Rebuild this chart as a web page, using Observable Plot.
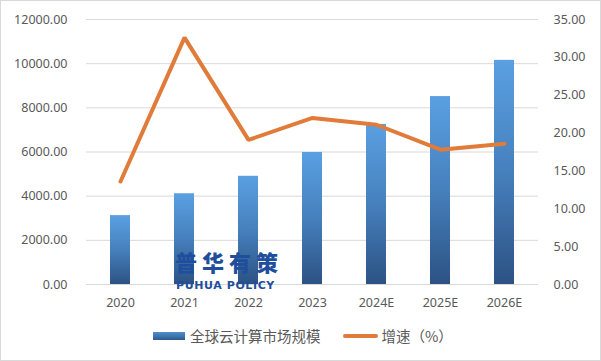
<!DOCTYPE html>
<html>
<head>
<meta charset="utf-8">
<script src="https://cdn.jsdelivr.net/npm/d3@7"></script>
<script src="https://cdn.jsdelivr.net/npm/@observablehq/plot@0.6"></script>
<style>
  body { margin: 0; background: #fff; }
  #wrap { position: relative; width: 601px; height: 361px; overflow: hidden; font-family: "Noto Sans CJK SC", "Noto Sans", sans-serif; }
  #frame { position: absolute; left: 0; top: 0; width: 599px; height: 359px; border: 1px solid #d9d9d9; pointer-events: none; }
  #chart { position: absolute; left: 0; top: 0; }
  .wm { position: absolute; color: #1f4f9c; font-weight: 900; white-space: nowrap; }
  #wm1 { left: 175px; top: 247px; font-size: 22px; line-height: 28px; letter-spacing: 5px; }
  #wm2 { left: 176px; top: 280px; font-family: "DejaVu Sans", sans-serif; font-weight: bold; font-size: 11px; line-height: 12px; letter-spacing: 0.6px; }
  #legend { position: absolute; left: 153px; top: 325px; display: flex; align-items: center; font-size: 14.5px; color: #595959; }
  .sw1 { width: 32px; height: 8px; background: linear-gradient(#4f8fd0, #2e5a8c); margin-right: 5px; }
  .sw2 { width: 35px; height: 4px; background: #e07b39; border-radius: 2px; margin-left: 22px; margin-right: 4px; }
</style>
</head>
<body>
<div id="wrap">
  <div id="chart"></div>
  <div class="wm" id="wm1">普华有策</div>
  <div class="wm" id="wm2">PUHUA POLICY</div>
  <div id="legend"><div class="sw1"></div><span>全球云计算市场规模</span><div class="sw2"></div><span>增速（%）</span></div>
  <div id="frame"></div>
</div>
<script>
const years = ["2020", "2021", "2022", "2023", "2024E", "2025E", "2026E"];
const marketSize = [3120, 4110, 4900, 5980, 7250, 8510, 10150];
const growth = [13.6, 32.6, 19.1, 22.0, 21.1, 17.8, 18.6];
const leftTicks = [0, 2000, 4000, 6000, 8000, 10000, 12000];
const rightTicks = [0, 5, 10, 15, 20, 25, 30, 35];
const leftMax = 12000, rightMax = 35;
const toLeft = v => v * leftMax / rightMax;

const data = years.map((y, i) => ({year: y, size: marketSize[i], g: growth[i]}));

const plot = Plot.plot({
  width: 601,
  height: 318,
  marginTop: 19,
  marginBottom: 34,
  marginLeft: 86,
  marginRight: 63,
  style: {fontFamily: "'Noto Sans', sans-serif", fontSize: "12.5px", color: "#595959", background: "transparent"},
  x: {domain: years, paddingInner: 0.69, paddingOuter: 0.345, label: null},
  y: {domain: [0, leftMax], label: null},
  marks: [
    Plot.gridY(leftTicks, {stroke: "#d9d9d9", strokeOpacity: 1}),
    Plot.barY(data, {x: "year", y: "size", fill: "url(#barGrad)"}),
    Plot.lineY(data, {x: "year", y: d => toLeft(d.g), stroke: "#e07b39", strokeWidth: 4, strokeLinejoin: "miter"}),
    Plot.axisY(leftTicks, {anchor: "left", tickSize: 0, tickPadding: 19, tickFormat: d => d.toFixed(2), label: null}),
    Plot.axisY(rightTicks.map(toLeft), {anchor: "right", tickSize: 0, tickPadding: 15, tickFormat: d => (d * rightMax / leftMax).toFixed(2), label: null}),
    Plot.axisX({tickSize: 0, tickPadding: 14, label: null})
  ]
});

const ns = "http://www.w3.org/2000/svg";
const defs = document.createElementNS(ns, "defs");
defs.innerHTML = `<linearGradient id="barGrad" x1="0" y1="0" x2="0" y2="1">
  <stop offset="0" stop-color="#5aa0e2"/>
  <stop offset="0.5" stop-color="#4680bd"/>
  <stop offset="1" stop-color="#2c5283"/>
</linearGradient>`;
plot.insertBefore(defs, plot.firstChild);
document.getElementById("chart").appendChild(plot);
</script>
</body>
</html>
